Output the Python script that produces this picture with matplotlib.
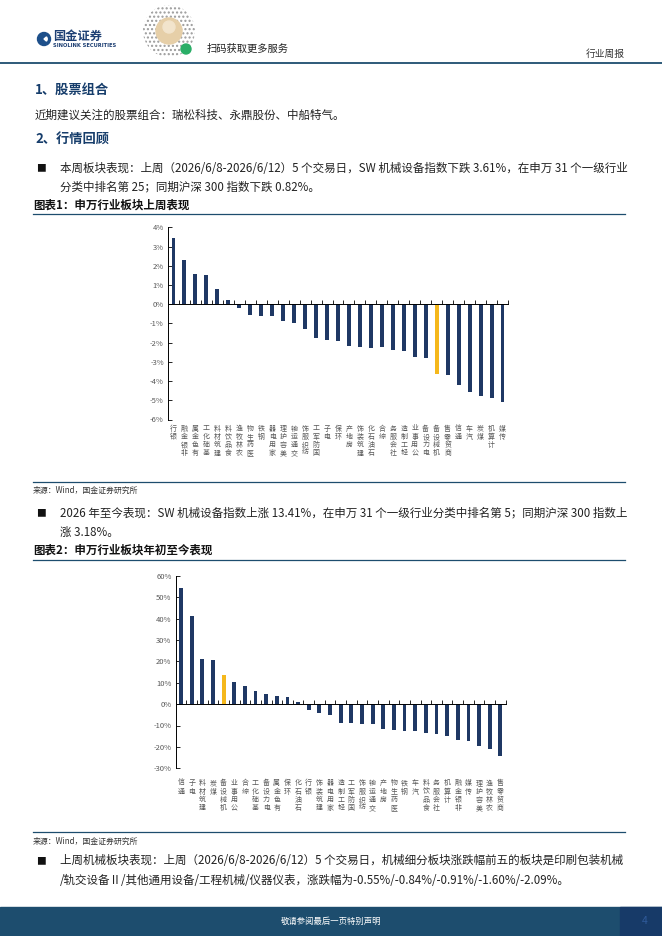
import numpy as np
import matplotlib
matplotlib.use("Agg")
import matplotlib.pyplot as plt
from matplotlib.patches import Circle, Rectangle, Wedge

plt.rcParams['font.family'] = ['Noto Sans CJK SC', 'DejaVu Sans']

W, H = 662, 936

# chart 1: last week
names1 = ["银行", "非银金融", "有色金属", "基础化工", "建筑材料", "食品饮料", "农林牧渔",
          "医药生物", "钢铁", "家用电器", "美容护理", "交通运输", "纺织服饰", "国防军工",
          "电子", "环保", "房地产", "建筑装饰", "石油石化", "综合", "社会服务", "轻工制造",
          "公用事业", "电力设备", "机械设备", "商贸零售", "通信", "汽车", "煤炭", "计算机", "传媒"]
week_ret = [3.43, 2.30, 1.58, 1.53, 0.80, 0.23, -0.22, -0.55, -0.60, -0.64, -0.85, -1.00,
            -1.30, -1.78, -1.85, -1.89, -2.17, -2.25, -2.27, -2.25, -2.36, -2.41, -2.77,
            -2.82, -3.61, -3.66, -4.23, -4.59, -4.80, -4.87, -5.10]

# chart 2: year to date
names2 = ["通信", "电子", "建筑材料", "煤炭", "机械设备", "公用事业", "综合", "基础化工",
          "电力设备", "有色金属", "环保", "石油石化", "银行", "建筑装饰", "家用电器",
          "轻工制造", "国防军工", "纺织服饰", "交通运输", "房地产", "医药生物", "钢铁", "汽车",
          "食品饮料", "社会服务", "计算机", "非银金融", "传媒", "美容护理", "农林牧渔", "商贸零售"]
ytd_ret = [54.4, 41.2, 21.0, 20.7, 13.41, 10.3, 8.4, 5.9, 4.6, 3.6, 3.1, 0.8, -2.7, -4.3,
           -4.9, -8.9, -9.0, -9.3, -9.5, -11.6, -12.3, -12.7, -12.8, -13.6, -14.1, -15.0,
           -16.8, -17.1, -19.6, -20.8, -24.1]

highlight = "机械设备"
NAVY = "#1f3864"
GOLD = "#f5b81c"
GRAY = "#595959"
TEAL = "#1d4d6e"


def fx(x):
    return x / W


def fy(y):
    return 1 - y / H


fig = plt.figure(figsize=(W / 100, H / 100), dpi=100)
bg = fig.add_axes([0, 0, 1, 1])
bg.set_xlim(0, W)
bg.set_ylim(H, 0)
bg.axis("off")

# ---- header ----
bg.add_patch(Circle((44, 39), 6.5, color="#1d4f8a"))
bg.add_patch(Wedge((44, 39), 3.2, -40, 40, color="white"))
bg.text(53, 36, "国金证券", fontsize=8.8, fontweight="bold", color="#1d3f73", va="center")
bg.text(53, 45.5, "SINOLINK SECURITIES", fontsize=3.7, fontweight="bold", color="#1d3f73",
        va="center", family="DejaVu Sans")

# mini program code placeholder
bg.add_patch(Circle((169, 31), 26, facecolor="white", edgecolor="#9a9a9a", hatch="....", lw=0))
bg.add_patch(Circle((169, 31), 13, color="#e6cfa8"))
bg.add_patch(Circle((169, 27), 6, color="#f2e4cc"))
bg.add_patch(Circle((186, 49), 5, color="#2aae67"))
bg.text(207, 48.5, "扫码获取更多服务", fontsize=7.4, color="#222222", va="center")
bg.text(625, 54, "行业周报", fontsize=7, color="#333333", va="center", ha="right")
bg.plot([0, W], [63, 63], color=TEAL, lw=1.3)

BODY = 8.3
TXT = "#222222"
bg.text(35, 90, "1、股票组合", fontsize=9.5, fontweight="bold", color="#163d6b", va="center")
bg.text(35, 115.5, "近期建议关注的股票组合：瑞松科技、永鼎股份、中船特气。", fontsize=BODY,
        color=TXT, va="center")
bg.text(35, 140, "2、行情回顾", fontsize=9.5, fontweight="bold", color="#163d6b", va="center")


def bullet(y, line1, line2):
    bg.text(36, y, "■", fontsize=7, color="#111111", va="center")
    bg.text(60, y, line1, fontsize=BODY, color=TXT, va="center")
    bg.text(60, y + 19, line2, fontsize=BODY, color=TXT, va="center")


bullet(168, "本周板块表现：上周（2026/6/8-2026/6/12）5 个交易日，SW 机械设备指数下跌 3.61%，在申万 31 个一级行业",
       "分类中排名第 25；同期沪深 300 指数下跌 0.82%。")
bg.text(33, 205, "图表1：申万行业板块上周表现", fontsize=8.3, fontweight="bold", color="#111111",
        va="center")
bg.plot([33, 625], [214, 214], color=TEAL, lw=0.9)

bg.plot([33, 625], [482, 482], color=TEAL, lw=0.9)
bg.text(33, 490, "来源：Wind，国金证券研究所", fontsize=5.7, color="#333333", va="center")
bullet(513, "2026 年至今表现：SW 机械设备指数上涨 13.41%，在申万 31 个一级行业分类中排名第 5；同期沪深 300 指数上",
       "涨 3.18%。")
bg.text(33, 550, "图表2：申万行业板块年初至今表现", fontsize=8.3, fontweight="bold", color="#111111",
        va="center")
bg.plot([33, 625], [560, 560], color=TEAL, lw=0.9)

bg.plot([33, 625], [832, 832], color=TEAL, lw=0.9)
bg.text(33, 841, "来源：Wind，国金证券研究所", fontsize=5.7, color="#333333", va="center")
bullet(861, "上周机械板块表现：上周（2026/6/8-2026/6/12）5 个交易日，机械细分板块涨跌幅前五的板块是印刷包装机械",
       "/轨交设备Ⅱ/其他通用设备/工程机械/仪器仪表，涨跌幅为-0.55%/-0.84%/-0.91%/-1.60%/-2.09%。")

# ---- footer ----
bg.add_patch(Rectangle((0, 907), W, 29, color=TEAL))
bg.add_patch(Rectangle((620, 907), 42, 29, color="#173a68"))
bg.text(331, 921.5, "敬请参阅最后一页特别声明", fontsize=6, color="white", ha="center", va="center")
bg.text(645, 921.5, "4", fontsize=7.5, color="#2f5a9a", ha="center", va="center")


def bar_chart(left, right, top, bottom, names, vals, ylo, yhi, step, lab_off, lab_fs, lab_ls):
    ax = fig.add_axes([fx(left), fy(bottom), (right - left) / W, (bottom - top) / H])
    x = np.arange(len(names))
    colors = [GOLD if n == highlight else NAVY for n in names]
    ax.bar(x, vals, width=0.36, color=colors, zorder=2)
    ax.set_xlim(-0.5, len(names) - 0.5)
    ax.set_ylim(ylo, yhi)
    ax.set_yticks(np.arange(ylo, yhi + step / 2, step))
    ax.set_yticklabels([f"{v:.0f}%" for v in np.arange(ylo, yhi + step / 2, step)])
    ax.set_xticks(np.arange(-0.5, len(names), 1))
    ax.tick_params(axis="x", direction="in", length=3, width=0.6, labelbottom=False)
    ax.tick_params(axis="y", direction="in", length=3, width=0.6, labelsize=5.5,
                   labelcolor=GRAY, pad=3)
    for s in ("top", "right"):
        ax.spines[s].set_visible(False)
    ax.spines["bottom"].set_position(("data", 0))
    ax.spines["bottom"].set_linewidth(0.7)
    ax.spines["left"].set_linewidth(0.7)
    ax.patch.set_alpha(0)
    for i, n in enumerate(names):
        ax.annotate("\n".join(n[::-1]), xy=(i, 0), xycoords=("data", "axes fraction"),
                    xytext=(0, -lab_off), textcoords="offset pixels", ha="center", va="top",
                    fontsize=lab_fs, linespacing=lab_ls, color=GRAY)
    return ax


bar_chart(168, 508, 227.3, 419.5, names1, week_ret, -6, 4, 1, 5, 5, 1.05)
bar_chart(175.7, 505.7, 575.7, 768.3, names2, ytd_ret, -30, 60, 10, 11, 5, 1.05)

fig.savefig("out.png", dpi=100)
